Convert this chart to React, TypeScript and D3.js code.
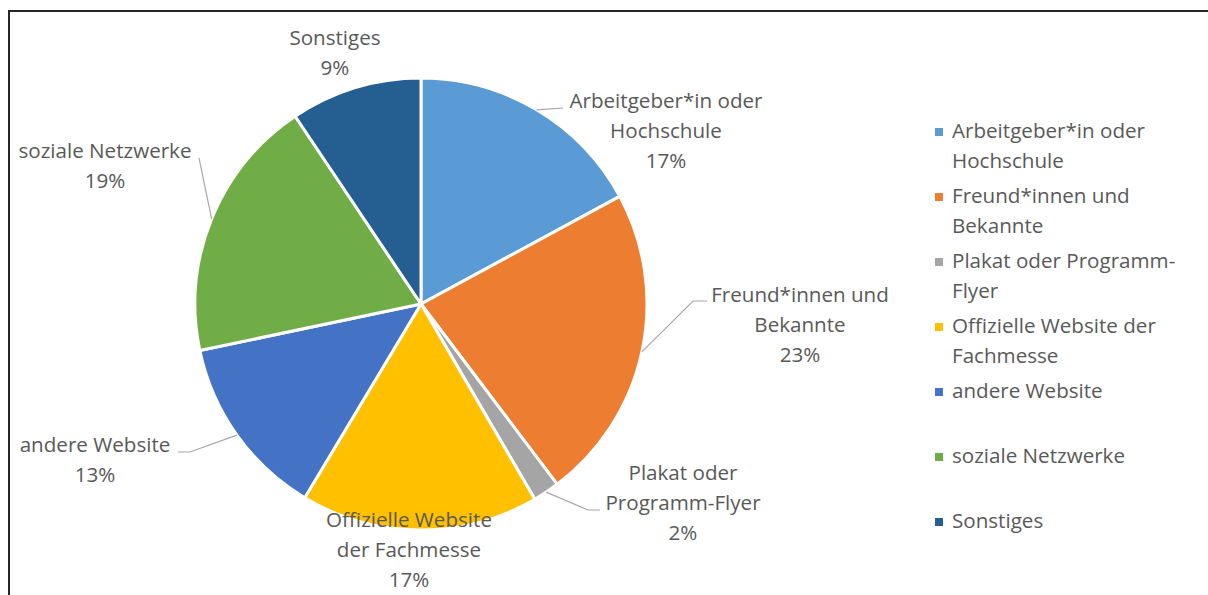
import React, {useEffect, useRef} from 'react'
import * as d3 from 'd3'

// Anteile in Prozent
const categories = [
    'Arbeitgeber*in oder Hochschule',
    'Freund*innen und Bekannte',
    'Plakat oder Programm-Flyer',
    'Offizielle Website der Fachmesse',
    'andere Website',
    'soziale Netzwerke',
    'Sonstiges',
]
const values = [17.1, 22.6, 1.9, 17.0, 13.1, 18.9, 9.4]
const colors = ['#5B9BD5', '#ED7D31', '#A5A5A5', '#FFC000', '#4472C4', '#70AD47', '#255E91']

// how the names are broken for labels and legend
const labelLines = [
    ['Arbeitgeber*in oder', 'Hochschule'],
    ['Freund*innen und', 'Bekannte'],
    ['Plakat oder', 'Programm-Flyer'],
    ['Offizielle Website', 'der Fachmesse'],
    ['andere Website'],
    ['soziale Netzwerke'],
    ['Sonstiges'],
]
const legendLines = [
    ['Arbeitgeber*in oder', 'Hochschule'],
    ['Freund*innen und', 'Bekannte'],
    ['Plakat oder Programm-', 'Flyer'],
    ['Offizielle Website der', 'Fachmesse'],
    ['andere Website'],
    ['soziale Netzwerke'],
    ['Sonstiges'],
]

const W = 1208
const H = 595
const FONT = '"Open Sans", Lato, sans-serif'
const FONT_SIZE = 20.6
const TEXT = '#595959'

// label layout relative to pie centre: [centre x, first baseline y], leader elbow + end
const labelLayout: {x: number, y: number, leader?: [number, number][]}[] = [
    {x: 245, y: -196, leader: [[142, -196]]},
    {x: 379, y: -2, leader: [[272, -3], [286, -3]]},
    {x: 262, y: 176, leader: [[167, 206], [179, 206]]},
    {x: -12, y: 223},
    {x: -326, y: 148, leader: [[-231, 148], [-243, 148]]},
    {x: -316, y: -146, leader: [[-222, -146]]},
    {x: -86, y: -259},
]

export default function App() {
    const svgRef = useRef<SVGSVGElement>(null)

    useEffect(() => {
        const svg = d3.select(svgRef.current)
        svg.selectAll('*').remove()

        const cx = 421
        const cy = 304
        const r = 226

        // chart frame (only top and left are visible in the crop)
        svg.append('path')
            .attr('d', `M9,${H} V11 H${W}`)
            .attr('fill', 'none')
            .attr('stroke', '#262626')
            .attr('stroke-width', 2)

        const pie = d3.pie<number>().sort(null).value(d => d)
        const arcs = pie(values)
        const arc = d3.arc<d3.PieArcDatum<number>>().innerRadius(0).outerRadius(r)

        const g = svg.append('g').attr('transform', `translate(${cx},${cy})`)

        g.selectAll('path.slice')
            .data(arcs)
            .join('path')
            .attr('class', 'slice')
            .attr('d', arc)
            .attr('fill', (_, i) => colors[i])
            .attr('stroke', '#fff')
            .attr('stroke-width', 3)
            .attr('stroke-linejoin', 'round')

        const total = d3.sum(values)

        // leader lines start on the rim at the slice's mid angle
        arcs.forEach((a, i) => {
            const lay = labelLayout[i]
            if (!lay.leader) return
            const mid = (a.startAngle + a.endAngle) / 2
            const start: [number, number] = [r * Math.sin(mid), -r * Math.cos(mid)]
            g.append('path')
                .attr('d', d3.line()([start, ...lay.leader]))
                .attr('fill', 'none')
                .attr('stroke', '#A6A6A6')
                .attr('stroke-width', 1.2)
        })

        // data labels
        arcs.forEach((a, i) => {
            const lay = labelLayout[i]
            const lines = [...labelLines[i], `${Math.round((a.data / total) * 100)}%`]
            const t = g.append('text')
                .attr('text-anchor', 'middle')
                .attr('font-family', FONT)
                .attr('font-size', FONT_SIZE)
                .attr('fill', TEXT)
            lines.forEach((l, j) => {
                t.append('tspan')
                    .attr('x', lay.x)
                    .attr('y', lay.y + j * 30)
                    .text(l)
            })
        })

        // legend
        const legend = svg.append('g').attr('transform', 'translate(935,138)')
        legendLines.forEach((lines, i) => {
            const row = legend.append('g').attr('transform', `translate(0,${i * 65})`)
            row.append('rect')
                .attr('x', 0)
                .attr('y', -10)
                .attr('width', 8)
                .attr('height', 8)
                .attr('fill', colors[i])
            const t = row.append('text')
                .attr('font-family', FONT)
                .attr('font-size', FONT_SIZE)
                .attr('fill', TEXT)
            lines.forEach((l, j) => {
                t.append('tspan').attr('x', 17).attr('y', j * 30).text(l)
            })
        })
    }, [])

    return (
        <svg
            ref={svgRef}
            width={W}
            height={H}
            style={{position: 'absolute', left: 0, top: 0, background: '#fff'}}
        />
    )
}
